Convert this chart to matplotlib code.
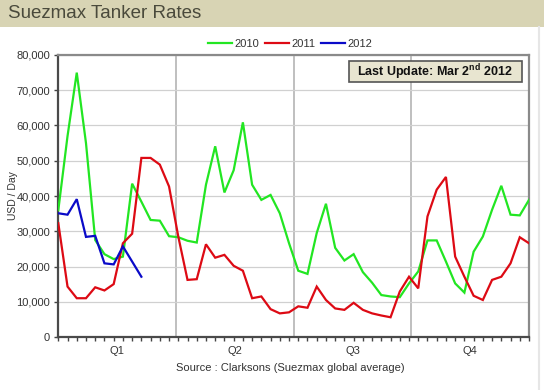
import numpy as np
import matplotlib
matplotlib.use("Agg")
import matplotlib.pyplot as plt
from matplotlib.ticker import FuncFormatter, MultipleLocator
from matplotlib.patches import Rectangle
from matplotlib.lines import Line2D

plt.rcParams['font.family'] = ['Liberation Sans', 'DejaVu Sans']
plt.rcParams['mathtext.fontset'] = 'custom'
plt.rcParams['mathtext.bf'] = 'Liberation Sans:bold'
plt.rcParams['mathtext.rm'] = 'Liberation Sans'

# --- datos semanales (USD / Day) ---
rates_2010 = [36000, 57000, 75000, 55000, 27500, 23500, 22100, 22800, 43500, 38400,
              33200, 33000, 28600, 28300, 27300, 26800, 43200, 54100, 41000, 47300,
              60900, 43200, 38900, 40300, 35100, 26600, 18800, 17900, 29500, 37800,
              25300, 21700, 23500, 18400, 15400, 11900, 11500, 11300, 15200, 18600,
              27400, 27400, 21400, 15200, 12600, 24200, 28500, 36100, 42900, 34700,
              34500, 38900]
rates_2011 = [32300, 14300, 11000, 11000, 14100, 13200, 15000, 26600, 29300, 50800,
              50800, 48900, 42700, 28500, 16200, 16400, 26300, 22500, 23300, 20200,
              18800, 11000, 11500, 7900, 6700, 7000, 8700, 8300, 14300, 10500,
              8100, 7700, 9700, 7700, 6700, 6100, 5600, 12900, 17100, 13800,
              34200, 41800, 45400, 22800, 17100, 11700, 10500, 16200, 17100, 20900,
              28300, 26600]
rates_2012 = [35100, 34700, 39100, 28400, 28700, 20900, 20600, 25700, 21400, 17100]
years = ['2010', '2011', '2012']
quarters = ['Q1', 'Q2', 'Q3', 'Q4']

colors = {'2010': '#22e622', '2011': '#dd0a14', '2012': '#0a0ac8'}

fig = plt.figure(figsize=(5.44, 3.90), dpi=100)
fig.patch.set_facecolor('white')

# --- cabecera ---
fig.patches.append(Rectangle((0, 1 - 27 / 390), 1, 27 / 390, transform=fig.transFigure,
                             facecolor='#d8d4b4', edgecolor='none', zorder=0))
fig.text(8 / 544, 1 - 14 / 390, 'Suezmax Tanker Rates', fontsize=13.5,
         color='#4a4a3c', va='center', ha='left')
# borde derecho tenue de la diapositiva
fig.lines.append(Line2D([539 / 544, 539 / 544], [0, 1 - 27 / 390], transform=fig.transFigure,
                        color='#e6e6e6', lw=1.5))

ax = fig.add_axes([58.3 / 544, 1 - 337 / 390, (529 - 58.3) / 544, (337 - 55) / 390])

series = [rates_2010, rates_2011, rates_2012]
for yr, vals in zip(years, series):
    ax.plot(np.arange(len(vals)), vals, color=colors[yr], lw=1.6, label=yr,
            solid_joinstyle='miter', zorder=3)

n_weeks = len(rates_2010) - 1
ax.set_xlim(0, n_weeks)
ax.set_ylim(0, 80000)

ax.yaxis.set_major_locator(MultipleLocator(10000))
ax.yaxis.set_major_formatter(FuncFormatter(lambda v, p: f'{int(v):,}'))
ax.grid(axis='y', color='#d0d0d0', lw=0.9, zorder=0)
for q in range(1, 4):
    ax.axvline(q * n_weeks / 4, color='#b4b4b4', lw=1.2, zorder=1)

ax.set_xticks(np.arange(0, n_weeks + 1))
ax.set_xticklabels([])
ax.tick_params(axis='x', direction='out', length=3, width=1, color='#444444')
ax.tick_params(axis='y', direction='out', length=3, width=1, color='#444444',
               labelsize=8, labelcolor='#333333', pad=3)

for s in ['left', 'bottom']:
    ax.spines[s].set_color('#4a4a4a')
    ax.spines[s].set_linewidth(1.6)
for s in ['top', 'right']:
    ax.spines[s].set_color('#8a8a8a')
    ax.spines[s].set_linewidth(1.6)

for i, q in enumerate(quarters):
    ax.text((i + 0.5) * n_weeks / 4, -0.05, q, transform=ax.get_xaxis_transform(),
            ha='center', va='center', fontsize=8, color='#333333')

ax.set_ylabel('USD / Day', fontsize=7.5, color='#333333')
ax.yaxis.set_label_coords(-40 / 470.7, 0.5)

fig.text(290 / 544, 1 - 368 / 390, 'Source : Clarksons (Suezmax global average)',
         ha='center', va='center', fontsize=8, color='#333333')

fig.legend(loc='center', bbox_to_anchor=(290 / 544, 1 - 44 / 390), ncol=3,
           frameon=False, fontsize=8, handlelength=2.2, handletextpad=0.2,
           columnspacing=0.5, labelcolor='#333333')

# cuadro de fecha de actualizacion
ax.add_patch(Rectangle((0.6176, 0.904), 0.3674, 0.075, transform=ax.transAxes,
                       facecolor='#e8e5d0', edgecolor='#555555', lw=1.2, zorder=5))
ax.text(0.801, 0.939, r'Last Update: Mar 2$^{\mathbf{nd}}$ 2012', transform=ax.transAxes,
        ha='center', va='center', fontsize=9, fontweight='bold', color='#111111', zorder=6)

fig.savefig('out.png', dpi=100)
